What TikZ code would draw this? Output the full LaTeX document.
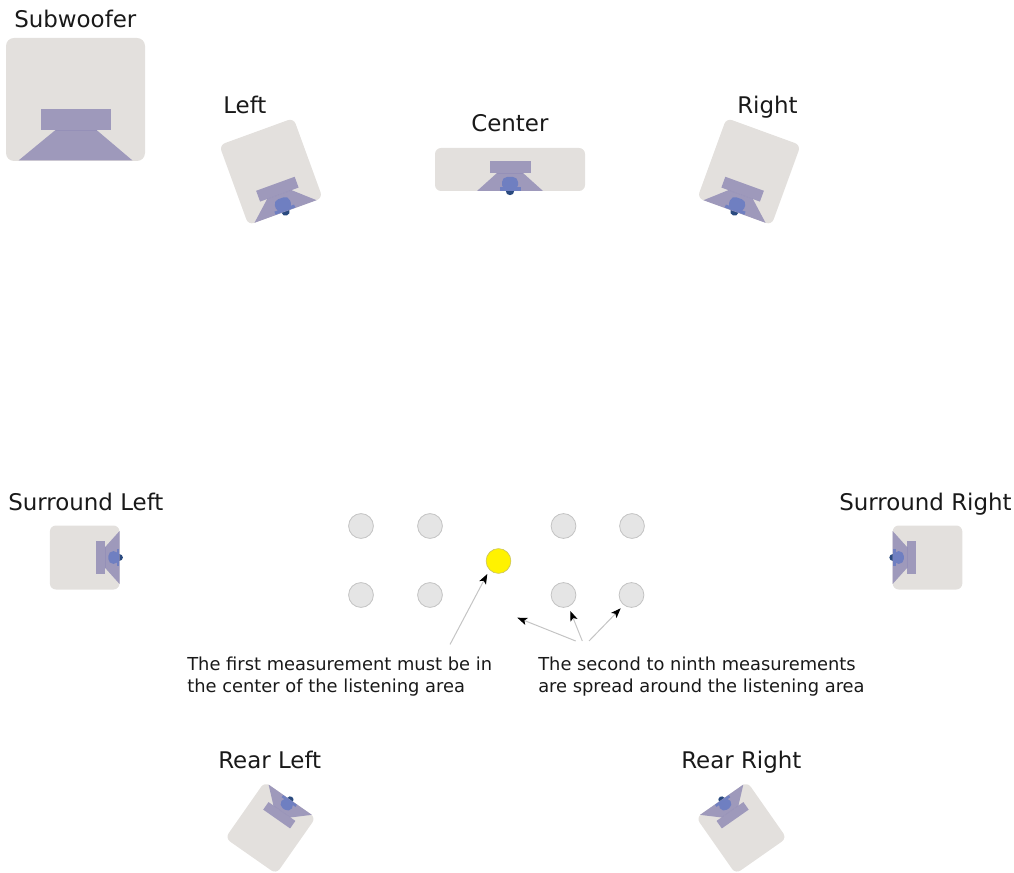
\documentclass[tikz,border=0pt]{standalone}
\usepackage{fontspec}
\setmainfont{DejaVu Sans}
\usetikzlibrary{arrows.meta}
\definecolor{boxc}{HTML}{E3E0DD}
\definecolor{conec}{HTML}{9E99BB}
\definecolor{seamc}{HTML}{9590B8}
\definecolor{headc}{HTML}{6F7FC1}
\definecolor{darkc}{HTML}{2A4A7F}
\definecolor{spotc}{HTML}{E5E5E5}
\definecolor{spote}{HTML}{C4C4C4}
\definecolor{leadc}{HTML}{C4C4C4}
\tikzset{
  x=0.75pt,y=0.75pt,
  cabinet/.style={fill=boxc,draw=none},
  driver/.style={fill=conec,draw=none},
  seam/.style={draw=seamc,line width=0.3pt},
  head/.style={fill=headc,draw=none},
  mic/.style={fill=darkc,draw=none},
  title/.style={font=\fontsize{17.2}{20}\selectfont,anchor=base west,inner sep=0pt,text=black!90},
  note/.style={font=\fontsize{13.4}{16.5}\selectfont,anchor=base west,inner sep=0pt,text=black!90},
  spot/.style={circle,fill=spotc,draw=spote,line width=0.6pt,minimum size=18.6pt,inner sep=0pt},
  firstspot/.style={circle,fill=yellow,draw=yellow!55!gray,line width=0.5pt,minimum size=18.6pt,inner sep=0pt},
  lead/.style={draw=leadc,line width=0.75pt,-{Stealth[black,length=7.5pt,width=5.6pt,inset=1.8pt]}},
}
% front-centre x, y (image px), rotation, scale, cabinet width, depth
\newcommand{\spkr}[6]{%
  \begin{scope}[shift={(#1,-#2)},rotate=#3,scale=#4]
    \fill[cabinet,rounded corners=4.5pt] (-#5/2,0) rectangle (#5/2,#6);
    \fill[mic] (0,0) circle (4.2);
    \fill[driver] (-33,0) -- (-13,18) -- (13,18) -- (33,0) -- cycle;
    \fill[driver] (-20.5,18) rectangle (20.5,29.5);
    \draw[seam] (-13,18) -- (13,18);
    \fill[head] (-10.5,0.4) rectangle (10.5,3.6);
    \fill[head,rounded corners=3.8pt] (-8,1) rectangle (8,14);
  \end{scope}}
\begin{document}
\begin{tikzpicture}
\useasboundingbox (0,0) rectangle (1014,-873);
% subwoofer
\fill[cabinet,rounded corners=6pt] (6,-38) rectangle (145,-161);
\fill[driver] (18.5,-160.5) -- (55.5,-130) -- (96.5,-130) -- (132.5,-160.5) -- cycle;
\fill[driver] (40.5,-109.5) rectangle (110.5,-130.5);
\draw[seam] (55.5,-130) -- (96.5,-130);
% speakers
\spkr{285.5}{211.5}{20}{1}{79}{85}
\spkr{734.5}{211.5}{-20}{1}{79}{85}
\spkr{510}{191}{0}{1}{150}{43}
\spkr{119.5}{557.5}{90}{0.8}{80}{87}
\spkr{892.7}{557.5}{-90}{0.8}{80}{87}
\spkr{290.2}{799.7}{145}{0.8}{78}{86}
\spkr{721.7}{799.7}{-145}{0.8}{78}{86}
% labels
\node[title] (tsub) at (14,-28) {Subwoofer};
\node[title] (tleft) at (223,-114) {Left};
\node[title] (tcenter) at (471,-132) {Center};
\node[title] (tright) at (737,-114) {Right};
\node[title] (tsl) at (8,-510.5) {Surround Left};
\node[title] (tsr) at (839,-510.5) {Surround Right};
\node[title] (trl) at (218,-768) {Rear Left};
\node[title] (trr) at (681,-768) {Rear Right};
\node[note] (n1a) at (187,-670.5) {The first measurement must be in};
\node[note] (n1b) at (187,-692.5) {the center of the listening area};
\node[note] (n2a) at (538,-670.5) {The second to ninth measurements};
\node[note] (n2b) at (538,-692.5) {are spread around the listening area};
% listening positions
\node[spot] (p1) at (361,-526) {};
\node[spot] (p2) at (430,-526) {};
\node[spot] (p3) at (563.5,-526) {};
\node[spot] (p4) at (632,-526) {};
\node[spot] (p5) at (361,-595) {};
\node[spot] (p6) at (430,-595) {};
\node[spot] (p7) at (563.5,-595) {};
\node[spot] (p8) at (631.5,-595) {};
\node[firstspot] (p0) at (498.5,-561) {};
% leaders
\coordinate (a1) at (450,-644.5);
\coordinate (a1e) at (487.3,-574);
\coordinate (a2) at (575.7,-641);
\coordinate (a2e) at (517.3,-617.7);
\coordinate (a3) at (582.3,-641);
\coordinate (a3e) at (570.3,-611);
\coordinate (a4) at (589,-641);
\coordinate (a4e) at (620.7,-608.3);
\draw[lead] (a1) -- (a1e);
\draw[lead] (a2) -- (a2e);
\draw[lead] (a3) -- (a3e);
\draw[lead] (a4) -- (a4e);
\end{tikzpicture}
\end{document}
